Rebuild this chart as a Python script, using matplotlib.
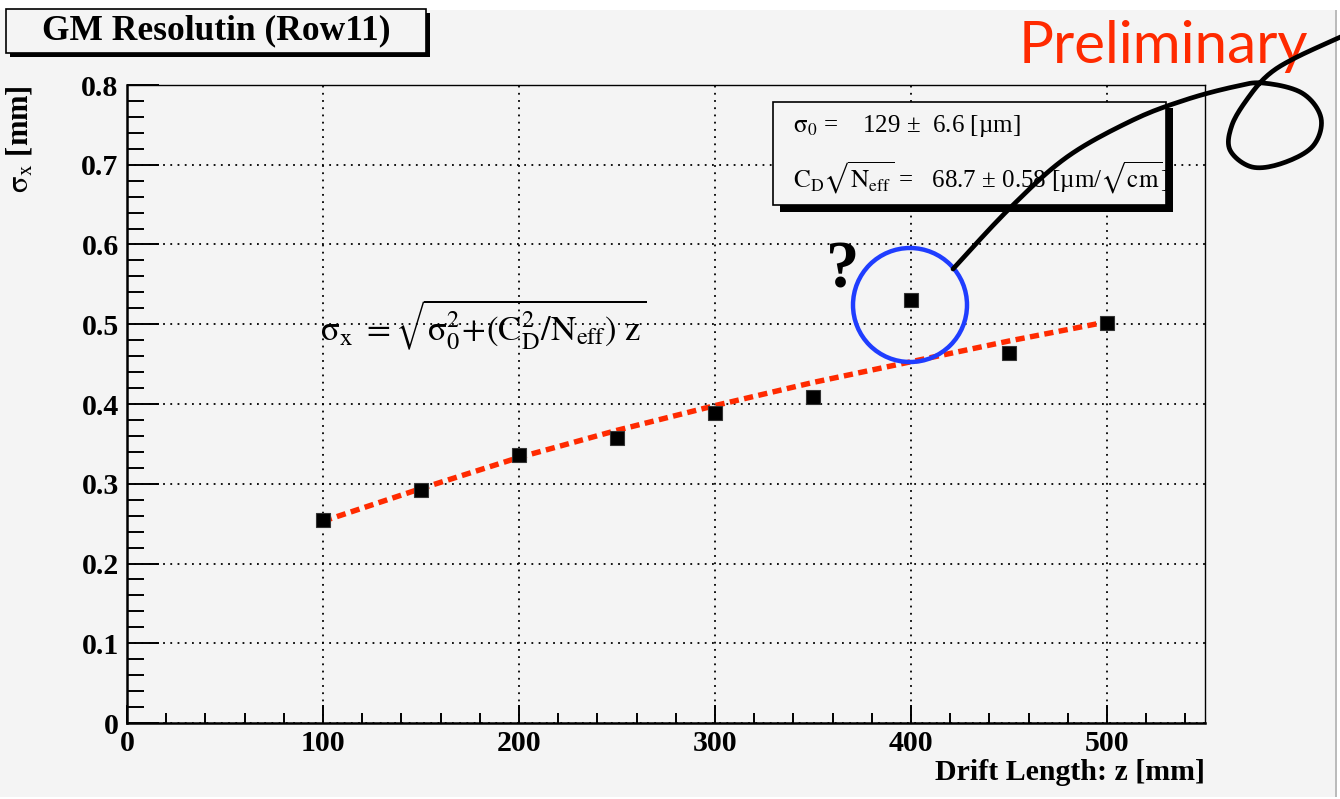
import numpy as np
import matplotlib
matplotlib.use("Agg")
import matplotlib.pyplot as plt
from matplotlib.patches import Rectangle, Ellipse
from matplotlib.path import Path
from matplotlib.patches import PathPatch
from matplotlib.ticker import MultipleLocator

plt.rcParams['font.family'] = ['Liberation Serif', 'DejaVu Serif']
plt.rcParams['mathtext.fontset'] = 'stix'
plt.rcParams['mathtext.default'] = 'rm'

# measured resolution vs drift length
drift_z = [100, 150, 200, 250, 300, 350, 400, 450, 500]
sigma_x = [0.255, 0.292, 0.336, 0.357, 0.389, 0.409, 0.530, 0.464, 0.501]

# fit curve
fit_z = [100, 150, 200, 250, 300, 350, 400, 450, 500]
fit_sigma = [0.253, 0.294, 0.333, 0.367, 0.398, 0.427, 0.453, 0.479, 0.503]

title = "GM Resolutin (Row11)"
stat_lines = [r"$\sigma_0$ =    129 ±  6.6 [µm]",
              r"$\mathrm{C_D}\sqrt{\mathrm{N_{eff}}}$ =   68.7 ± 0.58 [µm/$\sqrt{\mathrm{cm}}$]"]

W, H = 1340, 799
BG = '#f4f4f4'
RED = '#ff2a00'


def fx(x):
    return x / W


def fy(y):
    return 1 - y / H


def box(fig, x0, y0, x1, y1, shadow, lw=1.2):
    # ROOT-style box with drop shadow, pixel coordinates from top-left
    fig.add_artist(Rectangle((fx(x0 + shadow), fy(y1 + shadow)), fx(x1 - x0), (y1 - y0) / H,
                             transform=fig.transFigure, facecolor='black', edgecolor='none', zorder=5))
    fig.add_artist(Rectangle((fx(x0), fy(y1)), fx(x1 - x0), (y1 - y0) / H,
                             transform=fig.transFigure, facecolor=BG, edgecolor='black', lw=lw, zorder=6))


fig = plt.figure(figsize=(W / 100, H / 100), dpi=100, facecolor='white')
fig.add_artist(Rectangle((0, fy(797)), fx(1335), (797 - 10) / H, transform=fig.transFigure,
                         facecolor=BG, edgecolor='none', zorder=0))
fig.add_artist(Rectangle((fx(1335), fy(797)), fx(2), (797 - 10) / H, transform=fig.transFigure,
                         facecolor='#bbbbbb', edgecolor='none', zorder=0))

ax = fig.add_axes([fx(127), fy(723), fx(1205 - 127), (723 - 85) / H])
ax.set_facecolor(BG)
ax.patch.set_alpha(0)

ax.plot(fit_z, fit_sigma, color=RED, lw=3.9, ls=(0, (1.7, 1.0)), zorder=3)
ax.plot(drift_z, sigma_x, 's', color='black', ms=9.5, mec='#333333', mew=0.8, zorder=4)

ax.set_xlim(0, 550)
ax.set_ylim(0, 0.8)
ax.xaxis.set_major_locator(MultipleLocator(100))
ax.xaxis.set_minor_locator(MultipleLocator(20))
ax.yaxis.set_minor_locator(MultipleLocator(0.02))
ax.set_yticks(np.arange(0, 0.81, 0.1))
ax.set_yticklabels(['0', '0.1', '0.2', '0.3', '0.4', '0.5', '0.6', '0.7', '0.8'])
ax.grid(True, which='major', color='black', ls=(0, (1, 3)), lw=1.3)
ax.tick_params(axis='x', which='major', direction='in', length=13, width=1.4, labelsize=21.5, pad=5)
ax.tick_params(axis='x', which='minor', direction='in', length=7, width=1.4)
ax.tick_params(axis='y', which='major', direction='in', length=23, width=1.4, labelsize=21.5, pad=6)
ax.tick_params(axis='y', which='minor', direction='in', length=12, width=1.4)
for lab in ax.get_xticklabels() + ax.get_yticklabels():
    lab.set_fontweight('bold')
for s in ['left', 'bottom']:
    ax.spines[s].set_linewidth(1.8)
for s in ['top', 'right']:
    ax.spines[s].set_linewidth(1.0)

fig.text(fx(1205), fy(773), "Drift Length: z [mm]", ha='right', va='center',
         fontsize=21.5, fontweight='bold')
fig.text(fx(20), fy(85), r"$\sigma_\mathrm{x}$ [mm]", rotation=90, ha='center', va='top',
         fontsize=22, fontweight='bold')

# formula
fig.text(fx(320), fy(325),
         r"$\sigma_\mathrm{x}\ = \sqrt{\sigma_0^2\!+\!(\mathrm{C_D^2}/\mathrm{N_{eff}})\ \mathrm{z}}$",
         ha='left', va='center', fontsize=25)

# title box
box(fig, 6, 9, 426, 53, 3.5)
fig.text(fx(216), fy(31), title, ha='center', va='center', fontsize=25.5,
         fontweight='bold', zorder=7)

# stat box
box(fig, 773, 102, 1166, 205, 6.5)
fig.text(fx(793), fy(126), stat_lines[0], ha='left', va='center', fontsize=18, zorder=7)
fig.text(fx(793), fy(178), stat_lines[1], ha='left', va='center', fontsize=18, zorder=7)

# annotations
fig.text(fx(1019), fy(63), "Preliminary", ha='left', va='baseline', fontsize=42,
         color=RED, family='Lato', zorder=8)
fig.text(fx(843), fy(288), "?", ha='center', va='baseline', fontsize=48,
         fontweight='bold', zorder=8)
fig.add_artist(Ellipse((fx(910), fy(305)), 114 / W, 114 / H, transform=fig.transFigure,
                       facecolor='none', edgecolor='#1f3dff', lw=3.2, zorder=8))

pts = np.array([(953, 269), (1010, 208), (1067, 157), (1133, 120), (1185, 100), (1233, 87),
                (1263, 83), (1302, 93), (1321, 118), (1313, 146), (1283, 163), (1252, 167),
                (1230, 150), (1232, 125), (1248, 98), (1268, 75), (1295, 58), (1345, 35)], float)
# Catmull-Rom through the stroke points
p = np.vstack([pts[0], pts, pts[-1]])
curve = []
for i in range(1, len(p) - 2):
    t = np.linspace(0, 1, 12)[:, None]
    p0, p1, p2, p3 = p[i - 1], p[i], p[i + 1], p[i + 2]
    seg = 0.5 * ((2 * p1) + (-p0 + p2) * t + (2 * p0 - 5 * p1 + 4 * p2 - p3) * t ** 2
                 + (-p0 + 3 * p1 - 3 * p2 + p3) * t ** 3)
    curve.append(seg)
curve = np.vstack(curve)
verts = np.column_stack([curve[:, 0] / W, 1 - curve[:, 1] / H])
fig.add_artist(PathPatch(Path(verts), transform=fig.transFigure, facecolor='none',
                         edgecolor='black', lw=3.4, capstyle='round', zorder=9))

fig.savefig("out.png", dpi=100, facecolor=fig.get_facecolor())
